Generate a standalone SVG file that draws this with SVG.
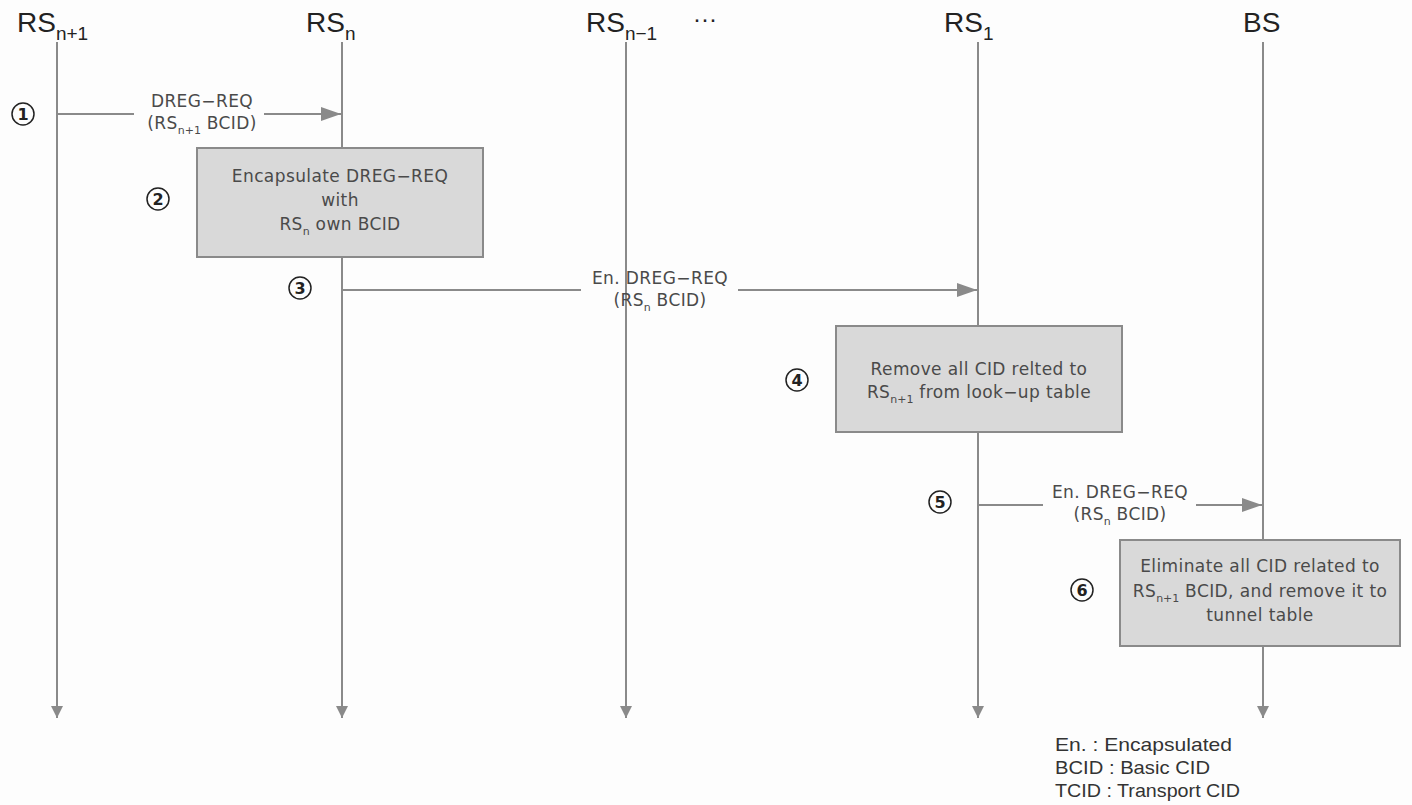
<svg xmlns="http://www.w3.org/2000/svg" width="1412" height="805" viewBox="0 0 1412 805">
<style>
.hdr{font-family:"Liberation Sans",Arial,sans-serif;font-size:28px;fill:#222}
.sub{font-size:19px}
.lbl{font-family:"DejaVu Sans",sans-serif;font-size:17px;letter-spacing:0.4px;fill:#4a4a4a;text-anchor:middle}
.ls{font-size:11px;letter-spacing:0}
.num{font-family:"DejaVu Sans",sans-serif;font-size:16px;font-weight:bold;fill:#222;text-anchor:middle}
.circ{fill:none;stroke:#222;stroke-width:1.5}
.life{stroke:#8a8a8a;stroke-width:2;fill:none}
.msg{stroke:#8a8a8a;stroke-width:2;fill:none}
.box{fill:#d9d9d9;stroke:#8a8a8a;stroke-width:2}
.leg{font-family:"Liberation Sans",Arial,sans-serif;font-size:19px;fill:#333}
</style>
<defs>
<marker id="ah" markerWidth="20" markerHeight="14" refX="20" refY="7" orient="auto" markerUnits="userSpaceOnUse">
<path d="M0,0 L20,7 L0,14 Z" fill="#8a8a8a"/>
</marker>
<marker id="ad" markerWidth="12" markerHeight="14" refX="12" refY="6" orient="auto" markerUnits="userSpaceOnUse">
<path d="M0,0 L12,6 L0,12 Z" fill="#8a8a8a"/>
</marker>
</defs>
<rect width="1412" height="805" fill="#fdfdfd"/>

<g id="headers">
<text class="hdr" x="17" y="32">RS<tspan class="sub" dy="8">n+1</tspan></text>
<text class="hdr" x="306" y="32">RS<tspan class="sub" dy="8">n</tspan></text>
<text class="hdr" x="586" y="32">RS<tspan class="sub" dy="8">n−1</tspan></text>
<text class="hdr" x="693" y="27" style="font-size:24px">···</text>
<text class="hdr" x="944" y="32">RS<tspan class="sub" dy="8">1</tspan></text>
<text class="hdr" x="1243" y="32">BS</text>
</g>

<g id="lifelines">
<line class="life" x1="57" y1="42" x2="57" y2="718" marker-end="url(#ad)"/>
<line class="life" x1="342" y1="42" x2="342" y2="718" marker-end="url(#ad)"/>
<line class="life" x1="626" y1="42" x2="626" y2="718" marker-end="url(#ad)"/>
<line class="life" x1="978" y1="42" x2="978" y2="718" marker-end="url(#ad)"/>
<line class="life" x1="1263" y1="42" x2="1263" y2="718" marker-end="url(#ad)"/>
</g>

<g id="connectors">
<path class="msg" d="M57,114 H134 M264,114 H341" marker-end="url(#ah)"/>
<path class="msg" d="M342,290 H581 M738,290 H977" marker-end="url(#ah)"/>
<path class="msg" d="M978,505 H1043 M1196,505 H1262" marker-end="url(#ah)"/>
</g>

<g id="msg1-label">
<text class="lbl" x="202" y="107">DREG−REQ</text>
<text class="lbl" x="202" y="129">(RS<tspan class="ls" dy="5">n+1</tspan><tspan dy="-5"> BCID)</tspan></text>
</g>
<g id="msg3-label">
<text class="lbl" x="660" y="284">En. DREG−REQ</text>
<text class="lbl" x="660" y="306">(RS<tspan class="ls" dy="5">n</tspan><tspan dy="-5"> BCID)</tspan></text>
</g>
<g id="msg5-label">
<text class="lbl" x="1120" y="498">En. DREG−REQ</text>
<text class="lbl" x="1120" y="520">(RS<tspan class="ls" dy="5">n</tspan><tspan dy="-5"> BCID)</tspan></text>
</g>

<g id="box2">
<rect class="box" x="197" y="148" width="286" height="109"/>
<text class="lbl" x="340" y="182">Encapsulate DREG−REQ</text>
<text class="lbl" x="340" y="206">with</text>
<text class="lbl" x="340" y="230">RS<tspan class="ls" dy="5">n</tspan><tspan dy="-5"> own BCID</tspan></text>
</g>
<g id="box4">
<rect class="box" x="836" y="326" width="286" height="106"/>
<text class="lbl" x="979" y="375">Remove all CID relted to</text>
<text class="lbl" x="979" y="398">RS<tspan class="ls" dy="5">n+1</tspan><tspan dy="-5"> from look−up table</tspan></text>
</g>
<g id="box6">
<rect class="box" x="1120" y="540" width="280" height="106"/>
<text class="lbl" x="1260" y="572">Eliminate all CID related to</text>
<text class="lbl" x="1260" y="597">RS<tspan class="ls" dy="5">n+1</tspan><tspan dy="-5"> BCID, and remove it to</tspan></text>
<text class="lbl" x="1260" y="621">tunnel table</text>
</g>

<g id="steps">
<circle class="circ" cx="23" cy="114" r="11"/><text class="num" x="23" y="120">1</text>
<circle class="circ" cx="158" cy="199" r="11"/><text class="num" x="158" y="205">2</text>
<circle class="circ" cx="300" cy="288" r="11"/><text class="num" x="300" y="294">3</text>
<circle class="circ" cx="797" cy="380" r="11"/><text class="num" x="797" y="386">4</text>
<circle class="circ" cx="940" cy="502" r="11"/><text class="num" x="940" y="508">5</text>
<circle class="circ" cx="1082" cy="590" r="11"/><text class="num" x="1082" y="596">6</text>
</g>

<g id="legend">
<text class="leg" x="1055" y="751" textLength="177" lengthAdjust="spacingAndGlyphs">En. : Encapsulated</text>
<text class="leg" x="1055" y="774" textLength="155" lengthAdjust="spacingAndGlyphs">BCID : Basic CID</text>
<text class="leg" x="1055" y="797" textLength="185" lengthAdjust="spacingAndGlyphs">TCID : Transport CID</text>
</g>
</svg>
